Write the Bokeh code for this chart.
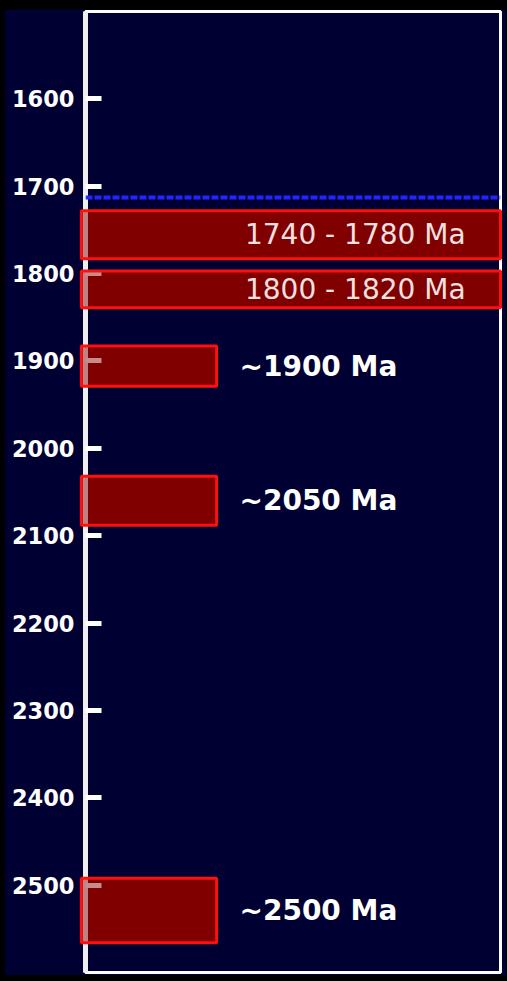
from bokeh.plotting import figure
from bokeh.models import Range1d, FixedTicker, Span, ColumnDataSource, GlobalInlineStyleSheet
from bokeh.core.properties import value
from bokeh.embed import file_html
from bokeh.resources import INLINE

# ---- data ----
event_labels = ["1740 - 1780 Ma", "1800 - 1820 Ma", "~1900 Ma", "~2050 Ma", "~2500 Ma"]
age_top = [1728, 1797, 1883, 2032, 2492]      # Ma (upper edge of box)
age_bottom = [1783, 1839, 1929, 2088, 2566]   # Ma (lower edge of box)
wide_box = [True, True, False, False, False]
dashed_line_age = 1713
tick_ages = [1600, 1700, 1800, 1900, 2000, 2100, 2200, 2300, 2400, 2500]

NAVY = "#000033"

p = figure(width=502, height=966, output_backend="svg", toolbar_location=None,
           x_range=Range1d(0, 100), y_range=Range1d(2600, 1500),
           x_axis_location=None, min_border_left=81, min_border_right=6,
           min_border_top=2, min_border_bottom=3)
p.background_fill_color = NAVY
p.border_fill_color = NAVY
p.outline_line_color = "white"
p.outline_line_width = 3
p.grid.visible = False
p.stylesheets = [GlobalInlineStyleSheet(
    css="html, body { background: #000000; margin: 0; } body { padding: 9px 0 0 4px; }")]

ax = p.yaxis[0]
ax.ticker = FixedTicker(ticks=tick_ages)
ax.axis_line_color = "#eeeeee"
ax.axis_line_width = 5
ax.major_tick_line_color = "white"
ax.major_tick_line_width = 5
ax.major_tick_in = 16
ax.major_tick_out = 0
ax.minor_tick_line_color = None
ax.major_label_text_color = "white"
ax.major_label_text_font = "DejaVu Sans"
ax.major_label_text_font_style = "bold"
ax.major_label_text_font_size = "22.5px"
ax.major_label_standoff = 11

# dashed marker line
p.add_layout(Span(location=dashed_line_age, dimension="width", line_color="#2424ff",
                  line_width=4, line_dash="7 2"))

# boxes: opaque base under the axis, translucent cover above it
x_right = [100 if w else 31.6 for w in wide_box]
src = ColumnDataSource(dict(left=[-1] * len(age_top), right=x_right,
                            top=age_top, bottom=age_bottom))
p.quad(left="left", right="right", top="top", bottom="bottom", source=src,
       fill_color="#800000", fill_alpha=1.0, line_color=None)
p.quad(left="left", right="right", top="top", bottom="bottom", source=src,
       fill_color="#800000", fill_alpha=0.45, line_color="#ff1010", line_width=3,
       level="overlay")

# labels
mid = [(a + b) / 2 for a, b in zip(age_top, age_bottom)]
wide_src = ColumnDataSource(dict(
    x=[65 for w in wide_box if w],
    y=[m for m, w in zip(mid, wide_box) if w],
    t=[l for l, w in zip(event_labels, wide_box) if w]))
p.text(x="x", y="y", text="t", source=wide_src, text_color="#f4e0e0",
       text_font=value("DejaVu Sans"), text_font_size="28px",
       text_align="center", text_baseline="middle", level="overlay")

narrow_src = ColumnDataSource(dict(
    x=[r + 5.5 for r, w in zip(x_right, wide_box) if not w],
    y=[m for m, w in zip(mid, wide_box) if not w],
    t=[l for l, w in zip(event_labels, wide_box) if not w]))
p.text(x="x", y="y", text="t", source=narrow_src, text_color="white",
       text_font=value("DejaVu Sans"), text_font_style="bold", text_font_size="28px",
       text_align="left", text_baseline="middle", level="overlay")

open("out.html", "w").write(file_html(p, INLINE))
